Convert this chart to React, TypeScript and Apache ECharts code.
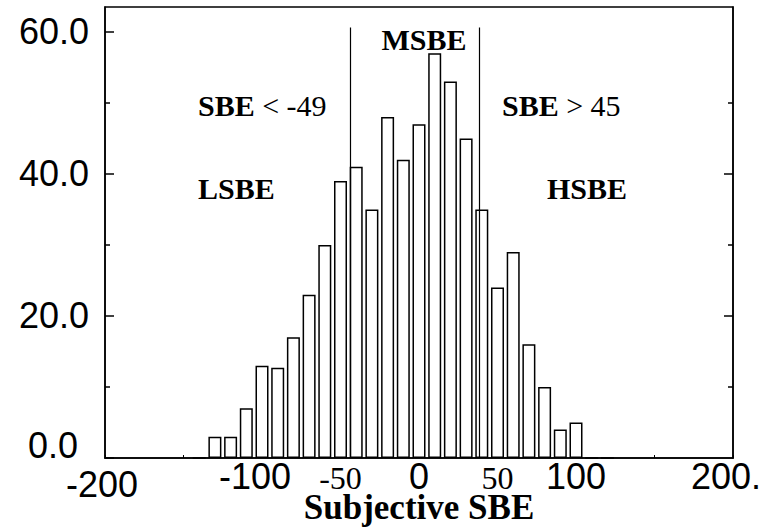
import React, { useEffect, useRef } from "react";
import * as echarts from "echarts";

const binCenters = [-140, -130, -120, -110, -100, -90, -80, -70, -60, -50, -40, -30, -20, -10, 0, 10, 20, 30, 40, 50, 60, 70, 80, 90, 100, 110, 120];
const counts = [0, 3, 3, 7, 13, 12.7, 17, 23, 30, 39, 41, 35, 48, 42, 47, 57, 53, 45, 35, 24, 29, 16, 10, 4, 5, 0, 0];

const xTickValues = [-200, -100, -50, 0, 50, 100, 200];
const xTickTexts = ["-200", "-100", "-50", "0", "50", "100", "200."];
const xSmallTicks = [-50, 50];

const yMajorTicks = [0, 20, 40, 60];
const yMinorTicks = [10, 30, 50];
const yRightMajorTicks = [20, 40];

const boundaries = [-44, 38.5];
const boundaryTop = 60.6;

const SANS = "'Liberation Sans', Arial, sans-serif";
const SERIF = "'Liberation Serif', 'Times New Roman', serif";

export default function App() {
  const ref = useRef<HTMLDivElement>(null);
  useEffect(() => {
    if (!ref.current) return;
    const chart = echarts.init(ref.current, undefined, { renderer: "svg" });
    const black = "#000";
    const yBase = {
      type: "value" as const,
      min: 0,
      max: 63.5,
      splitLine: { show: false },
    };
    chart.setOption({
      animation: false,
      backgroundColor: "#fff",
      grid: {
        left: 105,
        right: 33,
        top: 7,
        bottom: 71,
        containLabel: false,
        outerBoundsMode: "none",
        show: true,
        borderColor: black,
        borderWidth: 1.5,
        backgroundColor: "transparent",
      },
      xAxis: {
        type: "value",
        min: -200,
        max: 200,
        interval: 50,
        splitLine: { show: false },
        axisLine: { show: true, onZero: false, lineStyle: { color: black, width: 1.5 } },
        axisTick: { show: true, inside: true, length: 3, lineStyle: { color: black } },
        axisLabel: {
          color: black,
          fontFamily: SANS,
          fontSize: 36,
          margin: 0,
          showMinLabel: true,
          showMaxLabel: true,
          hideOverlap: false,
          formatter: (v: number) => {
            const i = xTickValues.indexOf(v);
            if (i < 0) return "";
            const t = xTickTexts[i];
            if (xSmallTicks.indexOf(v) >= 0) return "{s|" + t + "}";
            if (v === 200) return "{e|" + t + "}";
            if (v === -200) return "{f|" + t + "}";
            if (v === -100) return "{g|" + t + "}";
            return t;
          },
          rich: {
            s: { fontFamily: SERIF, fontSize: 32, color: black, padding: [4, 0, 0, 0] },
            e: { fontFamily: SANS, fontSize: 36, color: black, padding: [0, 14, 0, 0] },
            f: { fontFamily: SANS, fontSize: 36, color: black, padding: [8, 6, 0, 0] },
            g: { fontFamily: SANS, fontSize: 36, color: black, padding: [0, 14, 0, 0] },
          },
        },
        name: "Subjective SBE",
        nameLocation: "middle",
        nameGap: 32,
        nameMoveOverlap: false,
        nameTextStyle: { fontFamily: SERIF, fontWeight: "bold", fontSize: 35, color: black },
      },
      yAxis: [
        {
          ...yBase,
          position: "left",
          interval: 20,
          axisLine: { show: true, onZero: false, lineStyle: { color: black, width: 1.5 } },
          axisTick: {
            show: true,
            inside: true,
            length: 9,
            customValues: yMajorTicks,
            lineStyle: { color: black, width: 1.5 },
          },
          axisLabel: {
            color: black,
            fontFamily: SANS,
            fontSize: 36,
            margin: 16,
            customValues: yMajorTicks,
            formatter: (v: number) => (v === 0 ? "{z|0.0}" : v.toFixed(1)),
            rich: {
              z: { fontFamily: SANS, fontSize: 36, color: black, padding: [0, 11, 26, 0] },
            },
          },
        },
        {
          ...yBase,
          position: "left",
          interval: 10,
          axisLine: { show: false, onZero: false },
          axisTick: {
            show: true,
            inside: true,
            length: 5,
            customValues: yMinorTicks,
            lineStyle: { color: black, width: 1.5 },
          },
          axisLabel: { show: false },
        },
        {
          ...yBase,
          position: "right",
          interval: 10,
          axisLine: { show: true, onZero: false, lineStyle: { color: black, width: 1.5 } },
          axisTick: {
            show: true,
            inside: true,
            length: 5,
            customValues: yMinorTicks,
            lineStyle: { color: black, width: 1.5 },
          },
          axisLabel: { show: false },
        },
        {
          ...yBase,
          position: "right",
          interval: 20,
          axisLine: { show: false, onZero: false },
          axisTick: {
            show: true,
            inside: true,
            length: 9,
            customValues: yRightMajorTicks,
            lineStyle: { color: black, width: 1.5 },
          },
          axisLabel: { show: false },
        },
      ],
      series: [
        {
          type: "bar",
          xAxisIndex: 0,
          yAxisIndex: 0,
          barWidth: 13,
          data: binCenters.map((c, i) => [c, counts[i]]),
          itemStyle: { color: "#fff", borderColor: black, borderWidth: 1.5 },
          emphasis: { disabled: true },
          markLine: {
            silent: true,
            symbol: "none",
            label: { show: false },
            lineStyle: { color: black, width: 1.2, type: "solid" },
            data: boundaries.map((b) => [
              { coord: [b, 0] },
              { coord: [b, boundaryTop] },
            ]),
          },
        },
      ],
      graphic: [
        {
          type: "text",
          x: 424,
          y: 39,
          style: {
            text: "MSBE",
            font: `bold 30px ${SERIF}`,
            fill: black,
            align: "center",
            verticalAlign: "middle",
          },
        },
        {
          type: "text",
          x: 198,
          y: 105,
          style: {
            text: "{b|SBE} < -49",
            font: `30px ${SERIF}`,
            fill: black,
            align: "left",
            verticalAlign: "middle",
            rich: { b: { fontFamily: SERIF, fontWeight: "bold", fontSize: 30, fill: black } },
          },
        },
        {
          type: "text",
          x: 502,
          y: 105,
          style: {
            text: "{b|SBE} > 45",
            font: `30px ${SERIF}`,
            fill: black,
            align: "left",
            verticalAlign: "middle",
            rich: { b: { fontFamily: SERIF, fontWeight: "bold", fontSize: 30, fill: black } },
          },
        },
        {
          type: "text",
          x: 198,
          y: 188,
          style: {
            text: "LSBE",
            font: `bold 30px ${SERIF}`,
            fill: black,
            align: "left",
            verticalAlign: "middle",
          },
        },
        {
          type: "text",
          x: 547,
          y: 188,
          style: {
            text: "HSBE",
            font: `bold 30px ${SERIF}`,
            fill: black,
            align: "left",
            verticalAlign: "middle",
          },
        },
      ],
    });
    return () => chart.dispose();
  }, []);
  return (
    <div
      ref={ref}
      style={{ position: "fixed", left: 0, top: 0, width: 766, height: 529, background: "#fff" }}
    />
  );
}
